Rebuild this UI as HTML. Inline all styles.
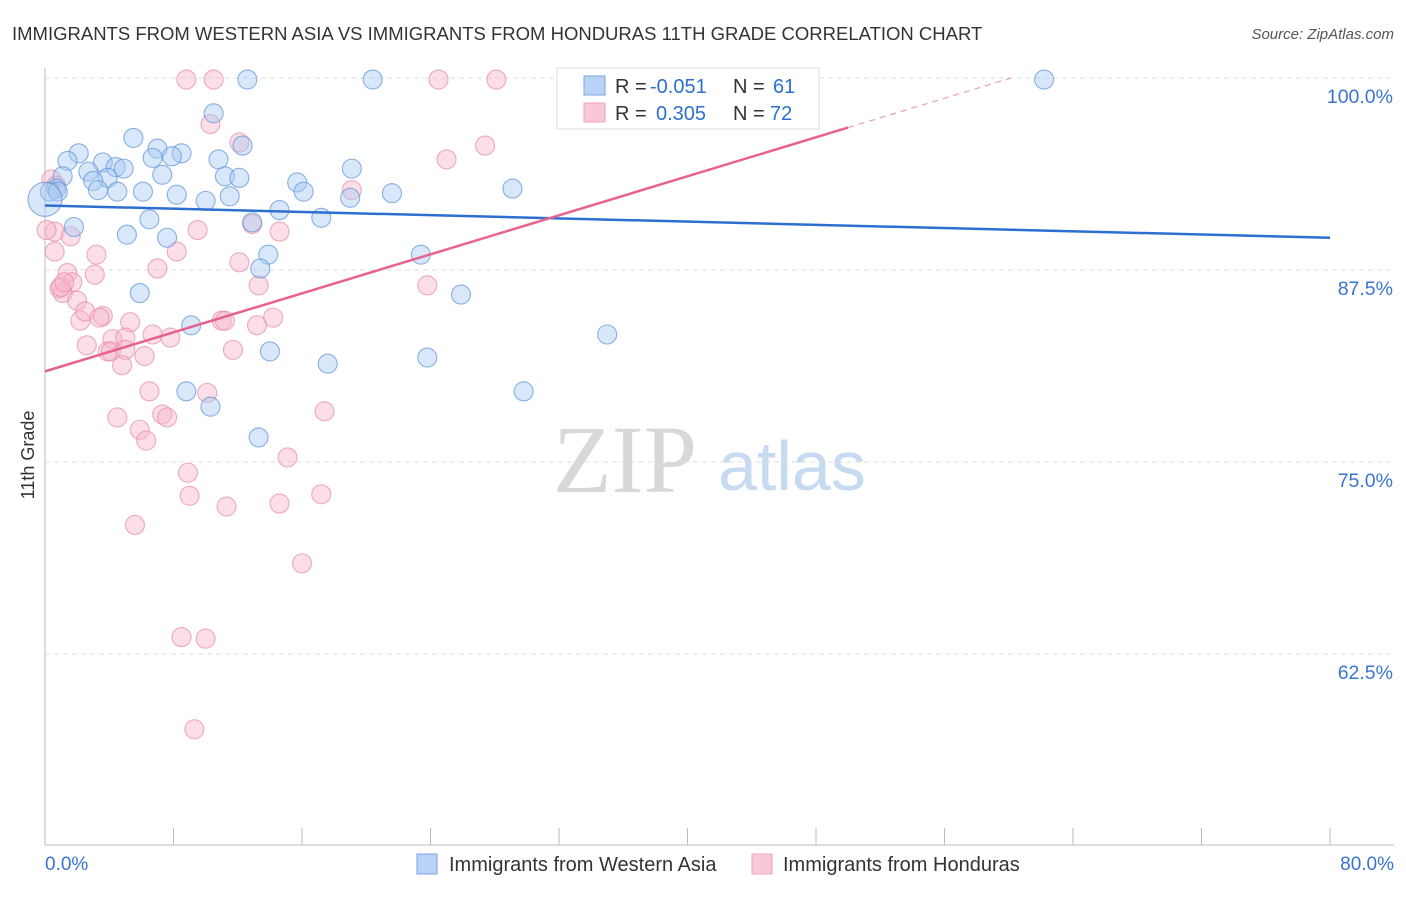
<!DOCTYPE html>
<html><head><meta charset="utf-8"><style>
body{margin:0;background:#fff;font-family:"Liberation Sans",sans-serif;}
svg text{font-family:"Liberation Sans",sans-serif;}
</style></head><body>
<svg id="chart" width="1406" height="892" xmlns="http://www.w3.org/2000/svg">
<text x="12" y="40" font-size="18.5" fill="#333">IMMIGRANTS FROM WESTERN ASIA VS IMMIGRANTS FROM HONDURAS 11TH GRADE CORRELATION CHART</text>
<text x="1394" y="39" font-size="15" fill="#555" text-anchor="end" font-style="italic">Source: ZipAtlas.com</text>
<text x="553" y="492" font-size="96" fill="#d8d8d8" font-family="Liberation Serif" style="font-family:'Liberation Serif',serif">ZIP</text>
<text x="718" y="490" font-size="70" fill="#c6daf2">atlas</text>
<text transform="translate(34,455) rotate(-90)" font-size="18" fill="#333" text-anchor="middle">11th Grade</text>
<g id="grid"></g><g id="axes"></g><g id="pts"></g><g id="lines"></g>
<g>
<rect x="557" y="68" width="262" height="61" fill="#fff" stroke="#ddd"/>
<rect x="584" y="76" width="21" height="19" fill="#b8d3f5" stroke="#7aa6e0"/>
<rect x="584" y="103" width="21" height="19" fill="#f9c8d8" stroke="#eea0ba"/>
<text x="615" y="93" font-size="20" fill="#333">R =</text><text x="650" y="93" font-size="20" fill="#2d6fd0">-0.051</text>
<text x="733" y="93" font-size="20" fill="#333">N =</text><text x="773" y="93" font-size="20" fill="#2d6fd0">61</text>
<text x="615" y="120" font-size="20" fill="#333">R =</text><text x="656" y="120" font-size="20" fill="#2d6fd0">0.305</text>
<text x="733" y="120" font-size="20" fill="#333">N =</text><text x="770" y="120" font-size="20" fill="#2d6fd0">72</text>
</g>
<g>
<rect x="417" y="854" width="20" height="20" fill="#b8d3f5" stroke="#7aa6e0"/>
<text x="449" y="871" font-size="20" fill="#333">Immigrants from Western Asia</text>
<rect x="752" y="854" width="20" height="20" fill="#f9c8d8" stroke="#eea0ba"/>
<text x="783" y="871" font-size="20" fill="#333">Immigrants from Honduras</text>
</g>
</svg>
<script>
const blueX=[12.6,20.4,62.2,10.5,5.5,7.0,8.5,2.1,1.4,3.6,6.7,7.9,10.8,4.4,4.9,2.7,1.1,3.9,3.0,7.3,11.2,12.1,15.7,19.1,3.3,4.5,6.1,8.2,10.0,11.5,16.1,21.6,29.1,0.7,0.3,0.8,0,1.8,5.1,6.5,7.6,12.9,14.6,17.2,19.0,13.9,13.4,23.4,25.9,5.9,9.1,35.0,14.0,23.8,17.6,8.8,10.3,29.8,13.3,12.3,42.3];
const blueY=[99.9,99.9,99.9,97.7,96.1,95.4,95.1,95.1,94.6,94.5,94.8,94.9,94.7,94.2,94.1,93.9,93.6,93.5,93.3,93.7,93.6,93.5,93.2,94.1,92.7,92.6,92.6,92.4,92.0,92.3,92.6,92.5,92.8,92.8,92.6,92.6,92.1,90.3,89.8,90.8,89.6,90.6,91.4,90.9,92.2,88.5,87.6,88.5,85.9,86.0,83.9,83.3,82.2,81.8,81.4,79.6,78.6,79.6,76.6,95.6,99.9];
const pinkX=[8.8,10.5,24.5,28.1,42.0,10.3,12.1,27.4,25.0,19.1,0.4,0.7,0.6,1.6,0.6,9.5,12.9,14.6,8.2,12.1,3.2,7.0,1.4,3.1,1.7,0.9,1.1,2.0,13.3,23.8,2.2,3.6,2.5,3.4,5.3,11.0,11.2,14.2,13.2,2.6,4.2,5.0,6.7,7.8,3.9,4.1,6.2,5.0,11.7,4.8,6.5,10.1,4.5,7.3,7.6,17.4,5.9,6.3,15.1,8.9,9.0,11.3,14.6,17.2,5.6,16.0,8.5,10.0,9.3,1.0,1.2,0.1];
const pinkY=[99.9,99.9,99.9,99.9,99.9,97.0,95.8,95.6,94.7,92.7,93.4,93.0,90.0,89.7,88.7,90.1,90.5,90.0,88.7,88.0,88.5,87.6,87.3,87.2,86.7,86.3,86.0,85.5,86.5,86.5,84.2,84.5,84.8,84.4,84.1,84.2,84.2,84.4,83.9,82.6,83.0,83.1,83.3,83.1,82.2,82.2,81.9,82.3,82.3,81.3,79.6,79.5,77.9,78.1,77.9,78.3,77.1,76.4,75.3,74.3,72.8,72.1,72.3,72.9,70.9,68.4,63.6,63.5,57.6,86.4,86.7,90.1];
const yTicks=[100,87.5,75,62.5];
const yTickLabels=["100.0%","87.5%","75.0%","62.5%"];
const blueTrend=[91.7,89.6];
const pinkTrend=[80.9,106.3];
const NS="http://www.w3.org/2000/svg";
const xs=v=>45+v/80*1285;
const ys=v=>78+(100-v)/12.5*192;
function mk(tag,attrs,parent){const e=document.createElementNS(NS,tag);for(const k in attrs)e.setAttribute(k,attrs[k]);parent.appendChild(e);return e;}
const grid=document.getElementById('grid'),axes=document.getElementById('axes'),pts=document.getElementById('pts'),lines=document.getElementById('lines');
yTicks.forEach((t,i)=>{
 const g=mk('line',{x1:45,x2:1394,y1:ys(t),y2:ys(t),stroke:'#ddd','stroke-dasharray':'5,4'},grid);
 
 
 const tx=mk('text',{x:1393,y:ys(t)+25,'font-size':19.5,fill:'#3a74d0','text-anchor':'end'},axes);
 tx.textContent=yTickLabels[i];
 
 
});
const ya=mk('line',{x1:45,x2:45,y1:68,y2:845,stroke:'#bbb'},axes);


const xa=mk('line',{x1:45,x2:1394,y1:845,y2:845,stroke:'#bbb'},axes);


for(let i=0;i<=10;i++){const t=mk('line',{x1:xs(i*8),x2:xs(i*8),y1:828,y2:845,stroke:'#bbb'},axes);
 
 }
const x0=mk('text',{x:45,y:870,'font-size':19,fill:'#3a74d0'},axes);x0.textContent='0.0%';


const x1=mk('text',{x:1394,y:870,'font-size':19,fill:'#3a74d0','text-anchor':'end'},axes);x1.textContent='80.0%';


function series(X,Y,fill,stroke,name,allowBig){X.forEach((x,i)=>{
 const big=allowBig&&(x===0);
 const c=mk('circle',{cx:xs(x),cy:ys(Y[i]),r:big?17:9.5,fill:fill,'fill-opacity':0.45,stroke:stroke,'stroke-width':1.1,'stroke-opacity':0.7},pts);
 
 
});}
series(pinkX,pinkY,'#f6b5c9','#e58aa8','point-honduras',false);
series(blueX,blueY,'#a9c9f1','#5b93d8','point-western-asia',true);
const bl=mk('line',{x1:xs(0),y1:ys(blueTrend[0]),x2:xs(80),y2:ys(blueTrend[1]),stroke:'#2d6fd0','stroke-width':2.5},lines);


const pv=x=>pinkTrend[0]+(pinkTrend[1]-pinkTrend[0])*x/80;
const pl=mk('line',{x1:xs(0),y1:ys(pv(0)),x2:xs(50),y2:ys(pv(50)),stroke:'#e8628f','stroke-width':2.5},lines);


const xe=(100-pinkTrend[0])/(pinkTrend[1]-pinkTrend[0])*80;
const pd=mk('line',{x1:xs(50),y1:ys(pv(50)),x2:xs(xe),y2:ys(100),stroke:'#e8a0b8','stroke-width':1.2,'stroke-dasharray':'6,5'},lines);


</script>
</body></html>
